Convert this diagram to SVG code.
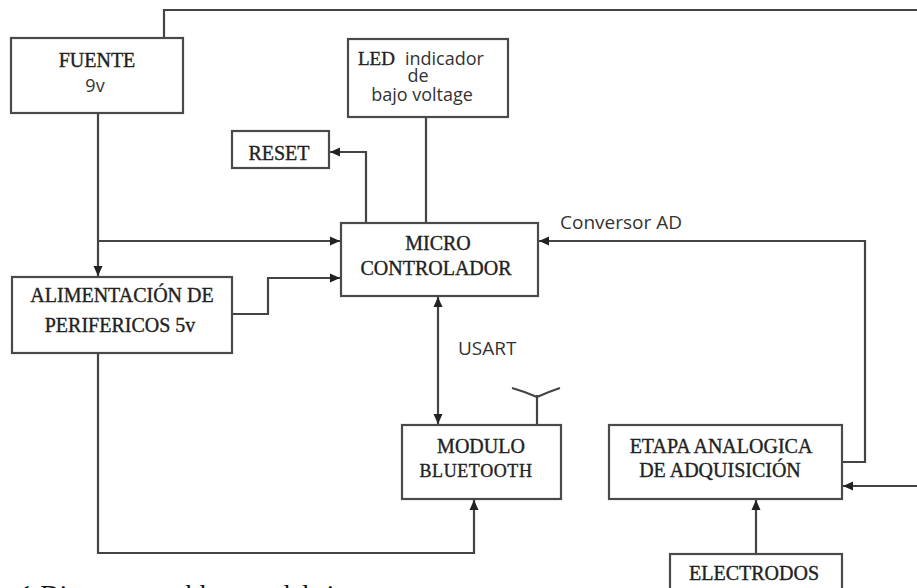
<svg xmlns="http://www.w3.org/2000/svg" width="917" height="588" viewBox="0 0 917 588">
<defs>
<style>
.box{fill:#fff;stroke:#4a4a4a;stroke-width:2.2}
.ln{fill:none;stroke:#444;stroke-width:2.2}
.sf{font-family:"Liberation Serif","Times New Roman",serif;font-size:20px;fill:#222;stroke:#222;stroke-width:0.35;text-anchor:middle}
.ss{font-family:"Open Sans","Liberation Sans",sans-serif;font-size:19px;fill:#333}
.cap{font-family:"Liberation Serif","Times New Roman",serif;font-size:27px;fill:#111}
</style>
<marker id="ah" viewBox="0 0 10 10" refX="10" refY="5" markerWidth="11" markerHeight="10" markerUnits="userSpaceOnUse" orient="auto-start-reverse">
<path d="M0,0.5 L10,5 L0,9.5 Z" fill="#222"/>
</marker>
</defs>
<rect width="917" height="588" fill="#fff"/>

<g id="connectors">
<path class="ln" d="M164,38 V10 H917"/>
<path class="ln" d="M426,117 V223"/>
<path class="ln" d="M366,223 V152 H330" marker-end="url(#ah)"/>
<path class="ln" d="M98,113 V276" marker-end="url(#ah)"/>
<path class="ln" d="M98,241 H340" marker-end="url(#ah)"/>
<path class="ln" d="M232,314 H268 V278 H340" marker-end="url(#ah)"/>
<path class="ln" d="M98,353 V553 H474 V500" marker-end="url(#ah)"/>
<path class="ln" d="M438,297 V424" marker-start="url(#ah)" marker-end="url(#ah)"/>
<path class="ln" d="M842,462 H865 V241 H539" marker-end="url(#ah)"/>
<path class="ln" d="M917,486 H843" marker-end="url(#ah)"/>
<path class="ln" d="M756,554 V500" marker-end="url(#ah)"/>
<path class="ln" d="M537,395 V425"/>
<path class="ln" d="M512,388 Q526,392 537,397 Q548,392 560,388"/>
</g>

<g id="fuente">
<rect class="box" x="11" y="38" width="172" height="75"/>
<text class="sf" x="97" y="67">FUENTE</text>
<text class="ss" x="95" y="92" text-anchor="middle" style="font-size:18px">9v</text>
</g>

<g id="led">
<rect class="box" x="348" y="39" width="160" height="78"/>
<text x="358" y="65"><tspan class="sf" style="text-anchor:start;font-size:19px">LED</tspan><tspan class="ss" dx="10" style="font-size:18px">indicador</tspan></text>
<text class="ss" x="418" y="82" text-anchor="middle" style="font-size:18px">de</text>
<text class="ss" x="422" y="101" text-anchor="middle" style="font-size:18px">bajo voltage</text>
</g>

<g id="reset">
<rect class="box" x="232" y="131" width="97" height="37"/>
<text class="sf" x="279" y="160">RESET</text>
</g>

<g id="micro">
<rect class="box" x="341" y="223" width="197" height="73"/>
<text class="sf" x="438" y="250">MICRO</text>
<text class="sf" x="436" y="275">CONTROLADOR</text>
</g>

<g id="alimentacion">
<rect class="box" x="12" y="277" width="220" height="76"/>
<text class="sf" x="122" y="302">ALIMENTACIÓN DE</text>
<text class="sf" x="120" y="332">PERIFERICOS  5v</text>
</g>

<g id="bluetooth">
<rect class="box" x="402" y="425" width="159" height="74"/>
<text class="sf" x="481" y="453">MODULO</text>
<text class="sf" x="476" y="477" style="font-size:18px;letter-spacing:0.6px">BLUETOOTH</text>
</g>

<g id="etapa">
<rect class="box" x="609" y="425" width="233" height="74"/>
<text class="sf" x="721" y="453">ETAPA ANALOGICA</text>
<text class="sf" x="720" y="477">DE ADQUISICIÓN</text>
</g>

<g id="electrodos">
<rect class="box" x="670" y="554" width="172" height="50"/>
<text class="sf" x="754" y="580">ELECTRODOS</text>
</g>

<g id="labels">
<text class="ss" x="458" y="355">USART</text>
<text class="ss" x="560" y="229">Conversor AD</text>
<text class="cap" x="20" y="604">1 Diagrama en bloques del sistema</text>
</g>
</svg>
